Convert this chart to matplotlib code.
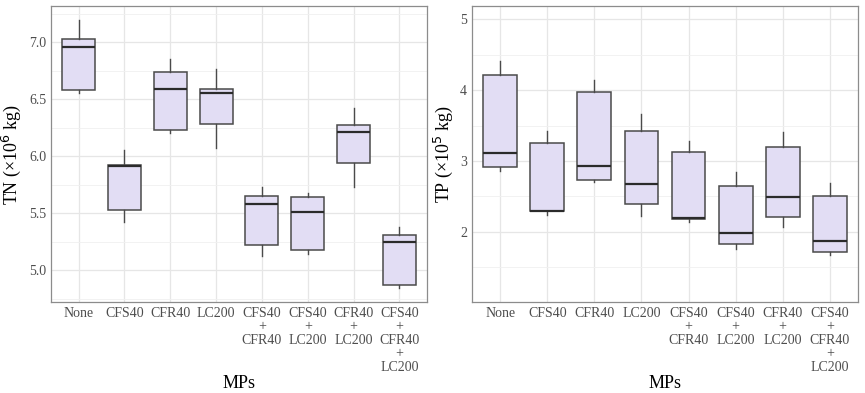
import matplotlib.pyplot as plt
from matplotlib.ticker import MultipleLocator

plt.rcParams['font.family'] = ['Liberation Serif', 'DejaVu Serif']

labels = ["None", "CFS40", "CFR40", "LC200", "CFS40\n+\nCFR40", "CFS40\n+\nLC200",
          "CFR40\n+\nLC200", "CFS40\n+\nCFR40\n+\nLC200"]

# TN (x10^6 kg)
tn_whislo = [6.55, 5.42, 6.20, 6.07, 5.12, 5.14, 5.73, 4.84]
tn_q1     = [6.58, 5.53, 6.23, 6.28, 5.22, 5.18, 5.94, 4.87]
tn_med    = [6.96, 5.91, 6.585, 6.555, 5.58, 5.51, 6.21, 5.25]
tn_q3     = [7.03, 5.92, 6.74, 6.585, 5.65, 5.64, 6.27, 5.31]
tn_whishi = [7.19, 6.05, 6.85, 6.76, 5.73, 5.68, 6.42, 5.375]

# TP (x10^5 kg)
tp_whislo = [2.86, 2.24, 2.70, 2.23, 2.14, 1.76, 2.07, 1.67]
tp_q1     = [2.92, 2.29, 2.73, 2.40, 2.18, 1.83, 2.21, 1.72]
tp_med    = [3.12, 2.30, 2.93, 2.68, 2.19, 1.98, 2.49, 1.87]
tp_q3     = [4.21, 3.26, 3.97, 3.42, 3.13, 2.65, 3.20, 2.51]
tp_whishi = [4.41, 3.43, 4.15, 3.67, 3.28, 2.85, 3.41, 2.69]


def make_stats(lo, q1, med, q3, hi):
    return [dict(whislo=a, q1=b, med=c, q3=d, whishi=e, fliers=[])
            for a, b, c, d, e in zip(lo, q1, med, q3, hi)]


def style_ax(ax, ylabel, major, ylim):
    ax.set_ylim(*ylim)
    ax.set_xlim(0.4, 8.6)
    ax.yaxis.set_major_locator(MultipleLocator(major))
    ax.yaxis.set_minor_locator(MultipleLocator(major / 2))
    ax.grid(which='major', color='#e6e6e6', lw=0.9)
    ax.grid(which='minor', axis='y', color='#f0f0f0', lw=0.6)
    ax.set_axisbelow(True)
    for s in ax.spines.values():
        s.set_color('#8c8c8c')
        s.set_linewidth(0.9)
    ax.tick_params(axis='both', which='both', length=0, colors='#4d4d4d', labelsize=10)
    ax.set_xticks(range(1, 9))
    ax.set_xticklabels(labels, linespacing=1.05, va='top')
    ax.set_ylabel(ylabel, fontsize=13, labelpad=4)
    ax.set_xlabel('MPs', fontsize=13, labelpad=1)


fig = plt.figure(figsize=(8.65, 3.93), dpi=100)
ax1 = fig.add_axes([51 / 865, 91 / 393, 376 / 865, 296 / 393])
ax2 = fig.add_axes([472 / 865, 91 / 393, 386 / 865, 296 / 393])

box_kw = dict(positions=range(1, 9), widths=0.72, patch_artist=True, showfliers=False,
              boxprops=dict(facecolor='#e2ddf4', edgecolor='#4a4a4a', lw=1.1),
              medianprops=dict(color='#2b2b2b', lw=1.6),
              whiskerprops=dict(color='#4a4a4a', lw=1.0),
              capprops=dict(lw=0))

ax1.bxp(make_stats(tn_whislo, tn_q1, tn_med, tn_q3, tn_whishi), **box_kw)
ax2.bxp(make_stats(tp_whislo, tp_q1, tp_med, tp_q3, tp_whishi), **box_kw)

style_ax(ax1, 'TN (×10$^6$ kg)', 0.5, (4.72, 7.316))
style_ax(ax2, 'TP (×10$^5$ kg)', 1.0, (1.01, 5.19))
ax1.yaxis.set_major_formatter(plt.FormatStrFormatter('%.1f'))

fig.savefig('out.png', dpi=100)
